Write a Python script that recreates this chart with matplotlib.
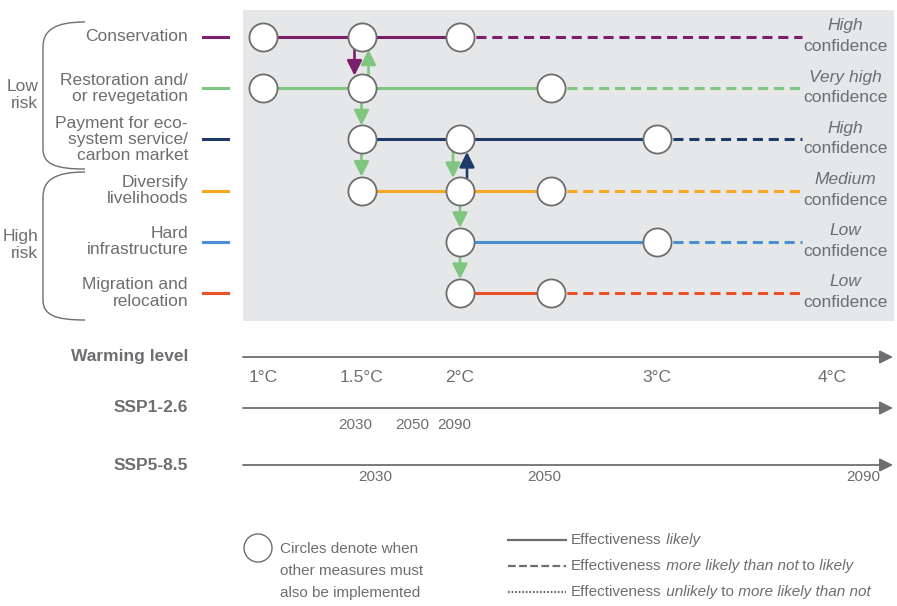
import numpy as np
import matplotlib.pyplot as plt
from matplotlib import transforms
from matplotlib.path import Path
from matplotlib.patches import PathPatch, Circle

plt.rcParams['font.family'] = ['Liberation Sans', 'DejaVu Sans']

# ------------------------------------------------------------------------
# Data
# ------------------------------------------------------------------------
measures = ['Conservation', 'Restoration and/\nor revegetation',
            'Payment for eco-\nsystem service/\ncarbon market',
            'Diversify\nlivelihoods', 'Hard\ninfrastructure',
            'Migration and\nrelocation']
colors = ['#7b1f6c', '#80c680', '#1f3a68', '#f7a823', '#4b8fd0', '#eb5128']
circles = [[1, 1.5, 2], [1, 1.5, 2.46], [1.5, 2, 3],
           [1.5, 2, 2.46], [2, 3], [2, 2.46]]
line_end = 3.83
confidence = ['High', 'Very high', 'High', 'Medium', 'Low', 'Low']

# (warming level, from row, to row, colour row, side)
arrows = [(1.5, 0, 1, 0, -1), (1.5, 1, 0, 1, 1), (1.5, 1, 2, 1, 0),
          (1.5, 2, 3, 1, 0), (2, 2, 3, 1, -1), (2, 3, 2, 2, 1),
          (2, 3, 4, 1, 0), (2, 4, 5, 1, 0)]

warming_ticks = [1, 1.5, 2, 3, 4]
ssp126_years = ['2030', '2050', '2090']
ssp126_at = [1.47, 1.76, 1.97]
ssp585_years = ['2030', '2050', '2090']
ssp585_at = [1.57, 2.43, 4.18]

# warming level -> horizontal position (the axis is not linear)
knots_t = [0, 1, 2, 3, 4, 5]
knots_p = [66, 263, 460, 657, 832, 1007]
fwd = lambda t: np.interp(t, knots_t, knots_p)
inv = lambda p: np.interp(p, knots_p, knots_t)

W, H = 897, 606
GREY = '#6d6e71'
FS = 12.5

fig = plt.figure(figsize=(W / 100, H / 100), dpi=100)

# overlay axes in pixel units for layout elements
ov = fig.add_axes([0, 0, 1, 1])
ov.set_xlim(0, W)
ov.set_ylim(H, 0)
ov.axis('off')

# main grey panel
ax = fig.add_axes([243 / W, 1 - 321 / H, (894 - 243) / W, (321 - 10) / H], zorder=1)
ax.set_xscale('function', functions=(fwd, inv))
ax.set_xlim(inv(243), inv(894))
ax.set_ylim(5.547, -0.527)
ax.set_facecolor('#e6e7e8')
for s in ax.spines.values():
    s.set_visible(False)
ax.set_xticks([])
ax.set_yticks([])

# ------------------------------------------------------------------------
# Rows: lines and circles
# ------------------------------------------------------------------------
for i, (pts, c) in enumerate(zip(circles, colors)):
    ax.plot([pts[0], pts[-1]], [i, i], color=c, lw=2.2, zorder=2)
    ax.plot([pts[-1], line_end], [i, i], color=c, lw=2.2, dashes=(3.3, 1.9), zorder=2)
    ax.scatter(pts, [i] * len(pts), s=410, facecolor='white', edgecolor='#6d6d6d',
               linewidth=1.3, zorder=4)

for t, r0, r1, ci, side in arrows:
    tr = transforms.offset_copy(ax.transData, fig=fig, x=7 * side, units='dots')
    shrink = 10 if side == 0 else 9
    ax.annotate('', xy=(t, r1), xycoords=tr, xytext=(t, r0), textcoords=tr,
                arrowprops=dict(arrowstyle='-|>,head_length=0.9,head_width=0.45',
                                mutation_scale=10, color=colors[ci], lw=1.9,
                                shrinkA=shrink, shrinkB=shrink), zorder=3)

# ------------------------------------------------------------------------
# Row labels, swatches and confidence
# ------------------------------------------------------------------------
row_tr = transforms.blended_transform_factory(ov.transData, ax.transData)
for i, (m, c, conf) in enumerate(zip(measures, colors, confidence)):
    ov.text(188, i, m, transform=row_tr, ha='right', va='center', fontsize=FS,
            color=GREY, linespacing=1.1)
    ov.plot([203, 228], [i, i], transform=row_tr, color=c, lw=2.2)
    up = transforms.offset_copy(row_tr, fig=fig, y=11, units='dots')
    dn = transforms.offset_copy(row_tr, fig=fig, y=-9.5, units='dots')
    ax.text(845, i, conf, transform=up, ha='center', va='center', fontsize=FS,
            color=GREY, style='italic', zorder=5, clip_on=False)
    ax.text(845, i, 'confidence', transform=dn, ha='center', va='center',
            fontsize=FS, color=GREY, zorder=5, clip_on=False)


def brace(y0, y1):
    verts = [(85, y0), (55, y0), (43, y0 + 8), (43, y0 + 25),
             (43, y1 - 20), (43, y1 - 5), (55, y1), (85, y1)]
    codes = [Path.MOVETO, Path.CURVE4, Path.CURVE4, Path.CURVE4,
             Path.LINETO, Path.CURVE4, Path.CURVE4, Path.CURVE4]
    ov.add_patch(PathPatch(Path(verts, codes), fill=False, edgecolor=GREY, lw=1))


brace(22, 169)
brace(172, 320)
ov.text(38, 95, 'Low\nrisk', ha='right', va='center', fontsize=FS, color=GREY,
        linespacing=1.15)
ov.text(38, 245, 'High\nrisk', ha='right', va='center', fontsize=FS, color=GREY,
        linespacing=1.15)

# ------------------------------------------------------------------------
# Warming level / scenario timelines
# ------------------------------------------------------------------------
tl_names = ['Warming level', 'SSP1-2.6', 'SSP5-8.5']
tl_y = [357, 408, 465]
for name, y in zip(tl_names, tl_y):
    ov.text(188, y, name, ha='right', va='center', fontsize=FS, color=GREY,
            fontweight='bold')
    ov.annotate('', xy=(893, y), xytext=(243, y),
                arrowprops=dict(arrowstyle='-|>,head_length=0.8,head_width=0.4',
                                mutation_scale=10, color=GREY, lw=1.3,
                                shrinkA=0, shrinkB=0))

x_tr = transforms.blended_transform_factory(ax.transData, ov.transData)
for t in warming_ticks:
    ov.text(t, 378, f'{t:g}°C', transform=x_tr, ha='center', va='center',
            fontsize=FS, color=GREY)
for yr, t in zip(ssp126_years, ssp126_at):
    ov.text(t, 425, yr, transform=x_tr, ha='center', va='center', fontsize=11,
            color=GREY)
for yr, t in zip(ssp585_years, ssp585_at):
    ov.text(t, 477, yr, transform=x_tr, ha='center', va='center', fontsize=11,
            color=GREY)

# ------------------------------------------------------------------------
# Legend
# ------------------------------------------------------------------------
ov.add_patch(Circle((258, 548), 14, facecolor='white', edgecolor=GREY, lw=1))
ov.text(280, 571, 'Circles denote when\nother measures must\nalso be implemented',
        ha='left', va='center', fontsize=11, color=GREY, linespacing=1.75)


def rich_text(x, y, parts):
    s, st = parts[0]
    t = ov.text(x, y, s, style=st, ha='left', va='center', fontsize=11, color=GREY)
    for s, st in parts[1:]:
        t = ov.annotate(s, xy=(1, 0), xycoords=t, ha='left', va='bottom',
                        style=st, fontsize=11, color=GREY)


styles = ['-', (0, (3.5, 1.5)), (0, (0.8, 0.8))]
entries = [[('Effectiveness', 'normal'), (' likely', 'italic')],
           [('Effectiveness', 'normal'), (' more likely than not', 'italic'),
            (' to', 'normal'), (' likely', 'italic')],
           [('Effectiveness', 'normal'), (' unlikely', 'italic'),
            (' to', 'normal'), (' more likely than not', 'italic')]]
for k, (ls, parts) in enumerate(zip(styles, entries)):
    y = 540 + 26 * k
    ov.plot([508, 566], [y, y], color=GREY, lw=1.6, linestyle=ls)
    rich_text(571, y, parts)

fig.savefig('out.png', dpi=100)
